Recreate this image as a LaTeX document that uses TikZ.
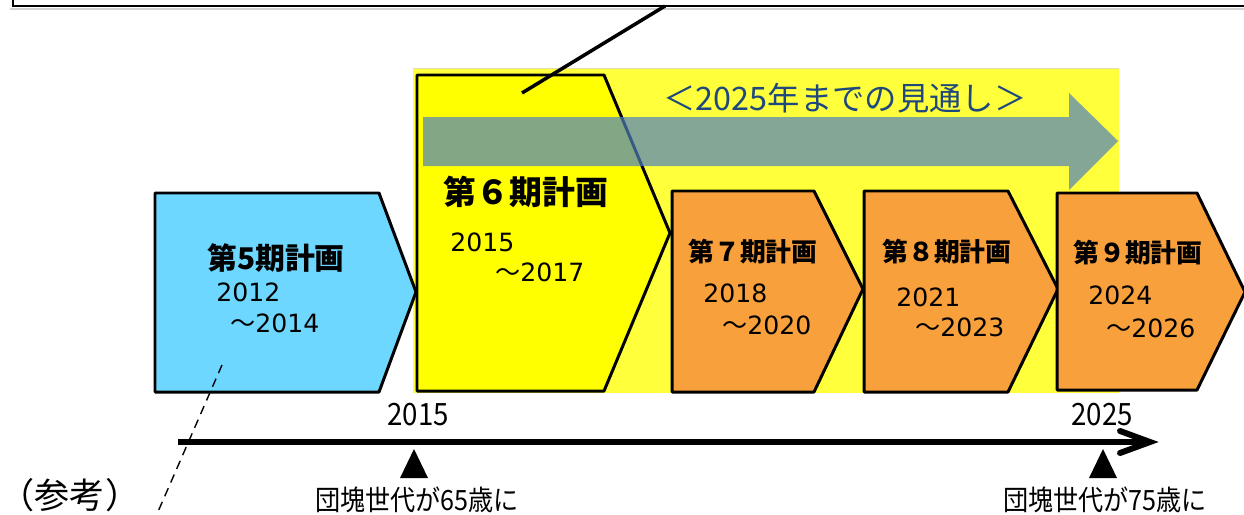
\documentclass[tikz,border=0pt]{standalone}
\usepackage{fontspec}
\newfontfamily\jp{Noto Sans CJK JP}
\newfontfamily\jpn[FakeStretch=0.9]{Noto Sans CJK JP}
\newfontfamily\dv{DejaVu Sans}
\definecolor{bgyel}{RGB}{255,255,60}
\definecolor{boxyel}{RGB}{255,255,0}
\definecolor{cyanbox}{RGB}{110,215,255}
\definecolor{orangebox}{RGB}{248,160,60}
\definecolor{arrowblue}{RGB}{79,129,189}
\definecolor{textblue}{RGB}{31,73,125}
\tikzset{
  plan/.style={draw=black, line width=1.7pt, line join=round},
  ttl/.style={font=\jp\bfseries\fontsize{14.7}{16}\selectfont, inner sep=0pt},
  yr/.style={font=\dv\fontsize{14.3}{16}\selectfont, anchor=west, inner sep=0pt},
  lbl/.style={font=\jpn\fontsize{15.9}{17}\selectfont, inner sep=0pt},
  tri/.style={fill=black, draw=none},
}
\newcommand{\til}{{\jp ～}}
\begin{document}
\begin{tikzpicture}[x=0.02cm, y=-0.02cm]
\useasboundingbox (0,0) rectangle (1244,514);
\begin{scope}
\clip (0,0) rectangle (1244,514);
% background of the outlook
\fill[bgyel] (413,68) rectangle (1119,393);
\draw[color={rgb,255:red,225;green,225;blue,175}, line width=0.8pt] (413,68.5) -- (1119,68.5);
% plan boxes
\draw[plan, fill=cyanbox] (155,193) -- (379,193) -- (416,292) -- (379,392) -- (155,392) -- cycle;
\draw[plan, fill=boxyel] (417,75) -- (604,75) -- (670,233) -- (604,391) -- (417,391) -- cycle;
\draw[plan, fill=orangebox] (672,191) -- (814,191) -- (863,289) -- (814,392) -- (672,392) -- cycle;
\draw[plan, fill=orangebox] (864,191) -- (1008,191) -- (1058,289) -- (1008,392) -- (864,392) -- cycle;
\draw[plan, fill=orangebox] (1057,193) -- (1197,193) -- (1245,292) -- (1197,390) -- (1057,390) -- cycle;
\coordinate (p6) at (522,93);
\coordinate (p5) at (222,365);
% outlook arrow
\fill[arrowblue, opacity=0.7] (423,117) -- (1069,117) -- (1069,93) -- (1118,141) -- (1069,190) -- (1069,166) -- (423,166) -- cycle;
\node[font=\jp\fontsize{18.4}{20}\selectfont, text=textblue, inner sep=0pt] (outlook) at (845,98) {＜2025年までの見通し＞};
% titles
\node[ttl, font=\jp\bfseries\fontsize{17}{18}\selectfont] (t5) at (276,258) {第5期計画};
\node[ttl, font=\jp\bfseries\fontsize{18.7}{20}\selectfont] (t6) at (526,192) {第６期計画};
\node[ttl] (t7) at (753,252) {第７期計画};
\node[ttl] (t8) at (947,252) {第８期計画};
\node[ttl] (t9) at (1138,253) {第９期計画};
% years
\node[yr] (y5a) at (216,292) {2012};
\node[yr] (y5b) at (230,323) {\til 2014};
\node[yr] (y6a) at (450,242) {2015};
\node[yr] (y6b) at (495,272) {\til 2017};
\node[yr] (y7a) at (703,293) {2018};
\node[yr] (y7b) at (722,325) {\til 2020};
\node[yr] (y8a) at (896,297) {2021};
\node[yr] (y8b) at (915,327) {\til 2023};
\node[yr] (y9a) at (1088,295) {2024};
\node[yr] (y9b) at (1106,328) {\til 2026};
% top callout box
\fill[gray!35] (10,7.5) rectangle (1250,9.5);
\draw[line width=1.7pt] (13,-30) -- (13,6) -- (1260,6);
\coordinate (callout) at (665,6);
\draw[line width=2pt] (callout) -- (p6);
% dashed reference line
\coordinate (ref) at (157,514);
\draw[line width=0.8pt, dash pattern=on 5pt off 3.5pt] (p5) -- (ref);
% timeline
\coordinate (tl0) at (178,442);
\coordinate (tl1) at (1150,442);
\draw[line width=3.4pt] (tl0) -- (tl1);
\draw[line width=3.4pt, line cap=round, line join=miter] (1120,431) -- (tl1) -- (1120,453);
\node[lbl, font=\jpn\fontsize{17.5}{19}\selectfont] (y2015) at (418,415) {2015};
\node[lbl, font=\jpn\fontsize{17.5}{19}\selectfont] (y2025) at (1102,415) {2025};
\fill[tri] (414,449) -- (428,478) -- (400,478) -- cycle;
\fill[tri] (1103,449) -- (1117,478) -- (1089,478) -- cycle;
\node[lbl] (g65) at (417,500) {団塊世代が65歳に};
\node[lbl] (g75) at (1105,500) {団塊世代が75歳に};
\node[lbl, font=\jp\fontsize{20}{22}\selectfont] (sanko) at (70,495) {（参考）};
\end{scope}
\end{tikzpicture}
\end{document}
